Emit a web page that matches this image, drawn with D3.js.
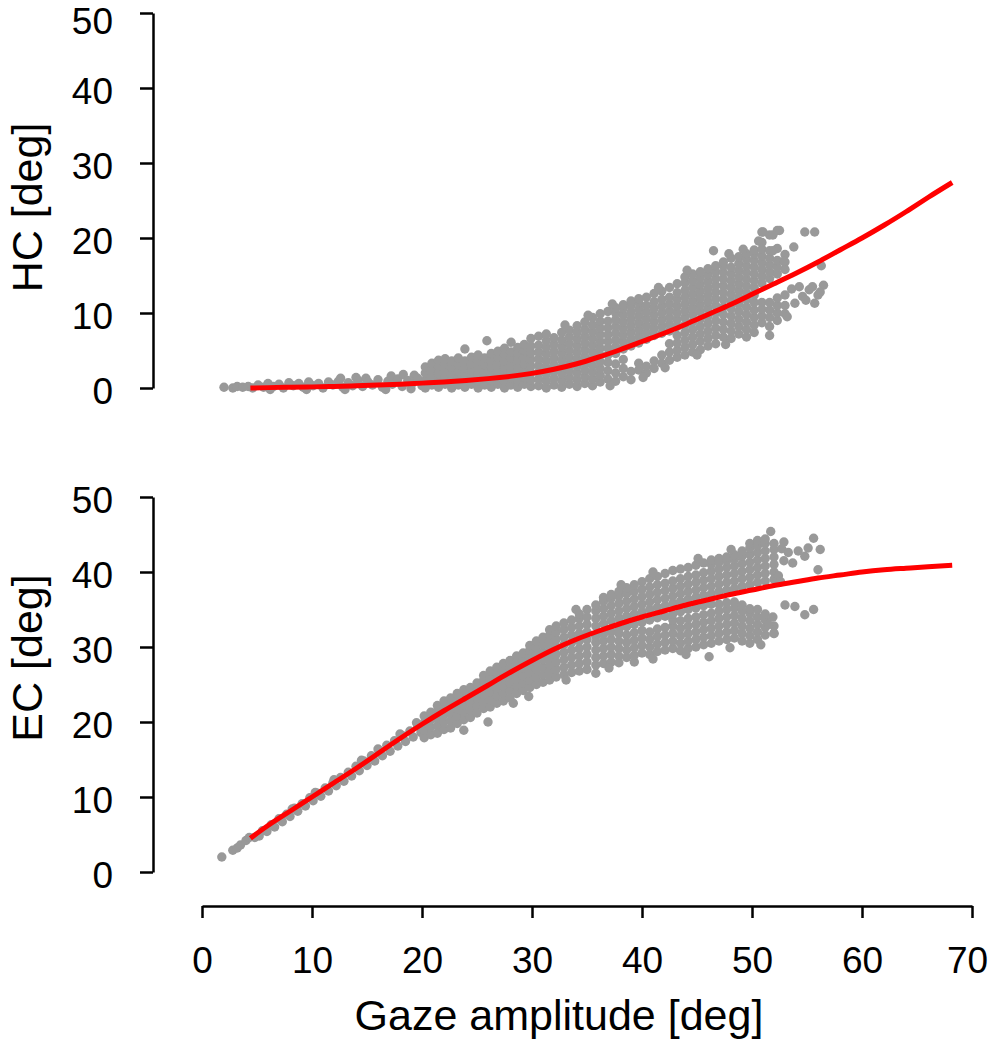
<!DOCTYPE html>
<html>
<head>
<meta charset="utf-8">
<script src="https://cdn.jsdelivr.net/npm/d3@7"></script>
<style>
body { margin: 0; background: #fff; }
svg { display: block; }
text { font-family: "Liberation Sans", Arial, Helvetica, sans-serif; }
</style>
</head>
<body>
<script>
// tick labels
var xTicks = [0, 10, 20, 30, 40, 50, 60, 70];
var yTicks = [0, 10, 20, 30, 40, 50];

// fitted curves (gaze amplitude -> HC / EC)
var fitX  = [4.4, 6, 8, 10, 12, 14, 16, 18, 20, 22, 24, 26, 28, 30, 32, 34, 36, 38, 40, 42, 44, 46, 48, 50, 52, 54, 56, 58, 60, 62, 64, 66, 68.2];
var hcFit = [0.0, 0.05, 0.1, 0.15, 0.2, 0.3, 0.4, 0.5, 0.65, 0.8, 1.0, 1.25, 1.55, 1.95, 2.5, 3.2, 4.1, 5.1, 6.2, 7.3, 8.5, 9.8, 11.1, 12.5, 13.9, 15.3, 16.8, 18.4, 20.0, 21.7, 23.5, 25.4, 27.4];
var ecFit = [4.5, 6.2, 8.1, 10.0, 11.9, 13.8, 15.8, 17.8, 19.7, 21.5, 23.2, 24.9, 26.6, 28.2, 29.7, 31.0, 32.1, 33.1, 34.0, 34.8, 35.6, 36.3, 37.0, 37.6, 38.2, 38.7, 39.2, 39.6, 40.0, 40.3, 40.5, 40.7, 40.9];

// HC scatter, [gaze, hc]
var hcLowPts = [[2.0,0.1],[2.8,0.0],[3.2,0.2],[3.7,0.1],[4.2,0.2],[4.6,0.0],
  [5.1,0.4],[5.6,0.1],[6.0,0.6],[6.2,-0.2],[6.5,0.2],[7.0,0.5],[7.4,0.0],[7.9,0.7],[8.3,0.3],[8.8,0.6],[9.2,0.1],[9.5,-0.2],
  [9.7,0.8],[10.1,0.3],[10.6,0.6],[11.0,0.0],[11.5,0.8],[11.9,0.4],[12.4,0.9],[12.6,1.3],[12.8,0.1],[13.0,-0.2],[13.3,0.7],
  [13.7,0.3],[14.0,1.4],[14.2,1.0],[14.6,0.2],[14.9,1.3],[15.1,0.8],[15.5,0.4],[16.0,1.1],[16.4,0.1],[16.7,-0.2],[16.9,0.9],
  [17.2,1.6],[17.3,0.5],[17.8,1.2],[18.2,0.2],[18.3,1.8],[18.7,1.0],[19.0,-0.1],[19.1,0.6],[19.3,1.7],[19.6,1.3],[20.0,0.3]];
var hcMidCols = [
  [20.3,[0.0,1.0,2.0,2.8]], [20.9,[0.4,1.4,2.4,3.3]], [21.5,[0.1,1.0,1.9,2.9,3.7]], [22.1,[0.5,1.4,2.3,3.2,3.9]],
  [22.7,[0.0,0.9,1.8,2.8,3.6]], [23.3,[0.4,1.3,2.2,3.1,4.0]], [23.9,[0.1,1.0,1.9,2.7,3.6,5.2]], [24.5,[0.5,1.4,2.3,3.2,4.1]],
  [25.1,[0.0,0.9,1.8,2.7,3.6,4.4]], [25.7,[0.4,1.3,2.2,3.1,4.0]], [25.9,[6.3]], [26.3,[0.1,1.0,1.9,2.8,3.7,4.6]],
  [26.9,[0.5,1.4,2.3,3.2,4.1,4.9]], [27.5,[0.0,0.9,1.8,2.7,3.6,4.5,5.3]], [28.1,[0.4,1.3,2.2,3.1,4.0,4.8,6.1]],
  [28.7,[0.1,1.0,1.9,2.8,3.7,4.6,5.4]], [29.3,[0.5,1.4,2.3,3.2,4.1,5.0,5.8]], [29.9,[0.2,1.1,2.0,2.9,3.8,4.7,5.6,6.6]]];
var hcHighCols = [
  [30.6,[0.3,1.2,2.1,3.0,3.9,4.8,5.7,6.9]], [31.3,[0.0,0.9,1.8,2.7,3.6,4.5,5.4,6.3,7.2]],
  [32.0,[0.4,1.3,2.2,3.1,4.0,4.9,5.8,6.7]], [32.7,[0.1,1.0,1.9,2.8,3.7,4.6,5.5,6.4,7.4]],
  [33.4,[0.5,1.4,2.3,3.2,4.1,5.0,5.9,6.8,7.7]], [34.1,[0.2,1.1,2.0,2.9,3.8,4.7,5.6,6.5,7.4,8.3]],
  [34.8,[0.6,1.5,2.4,3.3,4.2,5.1,6.0,6.9,7.8,8.8]], [35.5,[0.3,1.2,2.1,3.0,3.9,4.8,5.7,6.6,7.5,8.4,9.4]],
  [36.2,[0.8,1.7,2.6,3.5,4.4,5.3,6.2,7.1,8.0,8.9,9.9]], [36.9,[1.2,2.3,3.4,4.4,5.3,6.2,7.1,8.0,8.9,10.2]],
  [37.6,[0.9,2.0,3.2,4.6,5.5,6.4,7.3,8.2,9.1,10.0,10.7]], [38.3,[1.5,2.6,3.8,5.2,6.1,7.0,7.9,8.8,9.7,10.6,11.1]],
  [39.0,[1.1,2.2,5.6,6.5,7.4,8.3,9.2,10.1,11.0,11.6]], [39.7,[2.4,3.3,6.0,6.9,7.8,8.7,9.6,10.5,11.4,11.9]],
  [40.4,[2.0,2.9,6.5,7.4,8.3,9.2,10.1,11.0,12.1]], [41.1,[2.6,3.6,7.0,7.9,8.8,9.7,10.6,11.5,12.6]],
  [41.8,[3.3,4.4,7.3,8.2,9.1,10.0,10.9,11.8,12.9]], [42.5,[3.7,4.8,5.9,7.6,8.5,9.4,10.3,11.2,12.1,13.4]],
  [43.2,[4.1,5.0,6.0,7.0,8.2,9.1,10.0,10.9,11.8,12.7,13.9]], [43.9,[4.4,5.4,6.4,7.4,8.4,9.4,10.3,11.2,12.1,13.0,14.0,14.8]],
  [44.6,[4.8,5.8,6.8,7.8,8.8,9.8,10.7,11.6,12.5,13.4,14.3,15.2]], [45.3,[5.1,6.2,7.2,8.2,9.2,10.2,11.1,12.0,12.9,13.8,14.7,15.5]],
  [46.0,[5.6,6.6,7.6,8.6,9.6,10.6,11.5,12.4,13.3,14.2,15.1,15.9]], [46.5,[18.3]],
  [46.7,[5.9,7.0,8.0,9.0,10.0,11.0,11.9,12.8,13.7,14.6,15.5,16.3]], [47.4,[6.8,7.8,8.8,9.8,10.8,11.8,12.7,13.6,14.5,15.4,16.3,16.8]],
  [48.1,[6.6,7.6,8.6,9.6,10.6,11.6,12.5,13.4,14.3,15.2,16.1,17.3]], [48.8,[7.2,8.2,9.2,10.2,11.2,12.1,13.0,13.9,14.8,15.7,16.6,17.5]],
  [49.5,[6.8,7.8,8.8,9.8,10.8,11.8,12.7,13.6,14.5,15.4,16.3,17.2,17.9]], [50.2,[7.4,8.4,9.4,10.4,11.4,12.4,13.4,14.3,15.2,16.1,17.0,17.9,18.4]],
  [50.9,[8.7,9.6,10.5,11.4,14.0,14.9,15.8,16.7,17.6,18.5,19.4,20.8]], [51.6,[7.0,8.2,9.4,10.4,11.4,14.6,15.5,16.4,17.3,18.3,20.4]],
  [52.3,[9.0,10.0,11.0,12.0,15.2,16.1,17.0,18.6,21.0]], [53.0,[9.9,11.0,12.4,15.8,16.8,17.8]]];
var hcRightPts = [[53.2,9.5],[53.6,13.2],[53.8,18.8],[53.9,11.3],[54.3,13.5],[54.6,12.2],[54.8,20.8],[54.9,11.7],[55.2,13.1],
  [55.5,13.5],[55.7,20.8],[55.7,11.3],[56.0,12.4],[56.3,16.3],[56.5,13.7],[56.2,12.8],[52.5,21.0],[51.9,20.4],[51.0,20.8],[51.9,18.3],[52.9,16.9]];
var hcEdgePts = [[33.0,8.4],[35.1,9.7],[37.3,11.2],[41.5,13.4],[44.1,15.7],[47.9,17.9],[49.2,18.5],[50.6,19.6],
  [37.1,0.3],[40.1,1.4],[42.1,2.7],[45.0,4.4],[47.6,5.8]];

// EC scatter, [gaze, ec]
var ecLowPts = [[1.8,2.0],[2.8,2.9],[3.2,3.2],[3.5,3.6],[4.0,4.2],[4.3,4.6],
  [4.8,4.6],[5.2,4.8],[5.5,5.5],[5.9,5.4],[6.3,6.3],[6.6,6.0],[7.0,7.1],[7.3,6.7],[7.7,7.7],[8.0,7.4],[8.2,8.4],[8.4,8.5],
  [8.7,8.1],[9.1,9.1],[9.4,8.8],[9.8,9.9],[10.1,9.5],[10.3,10.6],[10.5,10.5],[10.8,10.1],[11.2,11.2],[11.5,10.8],[11.9,11.9],
  [12.0,12.3],[12.2,11.5],[12.6,12.6],[12.9,12.1],[13.3,13.3],[13.6,12.8],[14.0,14.1],[14.3,13.5],[14.5,14.9],[14.7,14.8],
  [15.0,14.2],[15.4,15.5],[15.7,14.8],[16.0,16.4],[16.1,16.2],[16.4,15.5],[16.8,16.9],[17.1,16.1],[17.5,17.5],[17.8,16.8],
  [18.0,18.4],[18.2,18.2],[18.5,17.4],[18.9,18.8],[19.2,18.0],[19.5,19.9],[19.6,19.5],[19.9,18.6]];
var ecMidCols = [
  [20.2,[17.9,18.9,19.9,20.8]], [20.8,[18.3,19.3,20.3,21.3]], [21.4,[18.5,19.5,20.5,21.5,22.2]], [22.0,[19.0,20.0,21.0,22.0,22.8]],
  [22.6,[19.2,20.2,21.2,22.2,23.2]], [23.2,[19.8,20.8,21.8,22.8,23.8]], [23.8,[18.9,20.3,21.3,22.3,23.3,24.3]],
  [24.4,[20.6,21.6,22.6,23.6,24.6]], [25.0,[21.2,22.2,23.2,24.2,25.2]], [25.6,[21.8,22.6,23.6,24.6,25.6,26.2]], [26.0,[20.0]],
  [26.2,[22.0,23.0,24.0,25.0,26.0,26.8]], [26.8,[22.5,23.5,24.5,25.5,26.5,27.3]], [27.4,[22.8,23.8,24.8,25.8,26.8,27.8]],
  [28.0,[23.2,24.2,25.2,26.2,27.2,28.2]], [28.3,[22.5]], [28.6,[23.8,24.8,25.8,26.8,27.8,28.8]],
  [29.2,[24.2,25.2,26.2,27.2,28.2,29.2]], [29.7,[23.4]], [29.8,[24.6,25.6,26.6,27.6,28.6,29.6,30.2]],
  [30.4,[25.0,26.0,27.0,28.0,29.0,30.0,30.8]], [31.0,[25.3,26.3,27.3,28.3,29.3,30.3,31.3]],
  [31.6,[25.6,26.6,27.6,28.6,29.6,30.6,31.6,32.3]]];
var ecHighCols = [
  [32.2,[26.0,27.0,28.0,29.0,30.0,31.0,32.0,32.8]], [32.9,[26.3,27.3,28.3,29.3,30.3,31.3,32.3,33.2]],
  [33.6,[26.6,27.6,28.6,29.6,30.6,31.6,32.6,33.6]], [34.3,[26.8,27.8,28.8,29.8,30.8,31.8,32.8,33.8,34.4]],
  [35.0,[27.0,28.0,29.0,30.0,31.0,32.0,33.0,34.0,35.0]], [35.8,[26.5,27.6,28.6,29.6,30.6,31.4,32.8,33.8,34.8,35.6]],
  [36.5,[27.8,28.8,29.8,30.8,31.7,33.1,34.1,35.1,36.1,36.6]], [37.2,[28.0,29.0,30.0,31.0,32.0,33.5,34.5,35.5,36.5,37.0]],
  [37.9,[27.9,28.8,29.8,30.8,31.8,32.4,33.8,34.8,35.8,36.8,37.4]], [38.6,[28.6,29.6,30.6,31.6,32.7,34.1,35.1,36.1,37.1,37.9]],
  [39.3,[28.0,28.9,29.9,30.9,31.9,33.0,34.4,35.4,36.4,37.4,38.3]], [40.0,[29.2,30.2,31.2,32.2,33.3,34.7,35.7,36.7,37.7,38.7]],
  [40.7,[29.0,30.0,31.0,32.0,33.6,35.0,36.0,37.0,38.0,39.1]], [41.4,[29.4,30.4,31.4,32.4,33.9,35.3,36.3,37.3,38.3,39.4]],
  [42.1,[29.6,30.6,31.6,32.6,34.1,35.5,36.5,37.5,38.5,39.8]], [42.8,[29.8,30.8,31.8,32.8,33.6,34.4,35.8,36.8,37.8,38.8,40.2]],
  [43.5,[29.5,30.5,31.5,32.5,33.5,34.7,36.1,37.1,38.1,39.1,40.4]], [44.2,[29.8,30.8,31.8,32.8,33.8,35.0,36.4,37.4,38.4,39.4,40.6]],
  [44.9,[30.0,31.0,32.0,33.0,34.0,35.2,36.6,37.6,38.6,39.6,40.9]], [45.6,[30.3,31.3,32.3,33.3,34.3,35.5,36.9,37.9,38.9,39.9,41.2]],
  [46.1,[28.7]], [46.3,[30.5,31.5,32.5,33.5,34.5,35.7,37.1,38.1,39.1,40.1,41.0,41.6]],
  [47.0,[30.8,31.8,32.8,33.8,34.8,35.7,37.4,38.4,39.4,40.4,41.3,41.8]], [47.7,[31.0,32.0,33.0,34.0,35.0,35.9,37.6,38.6,39.6,40.6,41.5,42.0]],
  [48.4,[31.2,32.2,33.2,34.2,35.2,36.0,37.8,38.8,39.8,40.8,41.7,42.3]], [49.1,[30.8,31.8,32.8,33.8,34.8,35.6,38.1,39.1,40.1,41.1,42.1,42.8]],
  [49.8,[30.5,31.5,32.5,33.5,34.5,35.1,38.3,39.3,40.3,41.3,42.3,43.2,43.8]], [50.5,[31.0,32.0,33.0,34.0,35.0,38.6,39.6,40.6,41.6,42.6,43.5,44.2]],
  [51.2,[31.6,32.6,33.6,34.4,38.8,39.8,40.8,41.8,42.8,43.8,44.4]], [52.0,[31.8,32.8,39.0,40.0,41.0,42.0,43.0,43.8]]];
var ecRightPts = [[51.7,45.4],[52.7,43.1],[52.9,41.5],[52.9,44.0],[53.3,42.6],[53.7,41.2],[54.2,42.8],[54.8,42.1],[55.1,43.2],
  [55.6,44.5],[56.2,43.0],[56.0,40.3],[53.0,35.6],[53.9,35.4],[54.8,34.3],[55.6,35.0],[52.4,39.5],[52.6,38.7],[51.9,34.0],[52.0,31.8],[51.5,33.0]];
var ecEdgePts = [[34.0,35.0],[38.1,38.3],[41.0,40.0],[45.1,41.8],[48.1,43.0],
  [33.1,25.6],[37.0,27.2],[41.0,28.4],[44.0,29.0],[48.0,29.9],[50.8,30.3]];

function colsToPts(cols) {
    return cols.flatMap(function(c) { return c[1].map(function(v) { return [c[0], v]; }); });
}

var hcPts = hcLowPts.concat(colsToPts(hcMidCols), colsToPts(hcHighCols), hcRightPts, hcEdgePts);
var ecPts = ecLowPts.concat(colsToPts(ecMidCols), colsToPts(ecHighCols), ecRightPts, ecEdgePts);

var svg = d3.select('body').append('svg')
            .attr('width', 989).attr('height', 1050);

var x = d3.scaleLinear().domain([0, 70]).range([202, 972]);
var yHC = d3.scaleLinear().domain([0, 50]).range([388, 13]);
var yEC = d3.scaleLinear().domain([0, 50]).range([872, 497]);

function styleAxis(g) {
    g.select('.domain').attr('stroke', '#000').attr('stroke-width', 2.5);
    g.selectAll('.tick line').attr('stroke', '#000').attr('stroke-width', 2.5);
    g.selectAll('.tick text').attr('fill', '#000').style('font-size', '37px')
     .style('font-family', '"Liberation Sans", Arial, Helvetica, sans-serif');
}

function drawPanel(pts, fit, y, title, titleY) {
    svg.append('g').selectAll('circle')
       .data(pts)
       .enter().append('circle')
       .attr('cx', function(d) { return x(d[0]); })
       .attr('cy', function(d) { return y(d[1]); })
       .attr('r', 4.7)
       .attr('fill', '#999999');

    var line = d3.line()
                 .x(function(d, i) { return x(fitX[i]); })
                 .y(function(d) { return y(d); })
                 .curve(d3.curveNatural);
    svg.append('path')
       .datum(fit)
       .attr('d', line)
       .attr('fill', 'none')
       .attr('stroke', '#ff0000')
       .attr('stroke-width', 5);

    var ax = svg.append('g')
                .attr('transform', 'translate(153,0)')
                .call(d3.axisLeft(y).tickValues(yTicks).tickSize(13).tickSizeOuter(0).tickPadding(27));
    styleAxis(ax);
    ax.selectAll('.tick text').attr('dy', '0.42em');

    svg.append('text')
       .attr('transform', 'translate(42,' + titleY + ') rotate(-90)')
       .attr('text-anchor', 'middle')
       .style('font-size', '43px')
       .text(title);
    return ax;
}

var axHC = drawPanel(hcPts, hcFit, yHC, 'HC [deg]', 207.5);
drawPanel(ecPts, ecFit, yEC, 'EC [deg]', 658);
// top label would touch the page edge
axHC.selectAll('.tick text').filter(function(d) { return d === 50; }).attr('dy', '0.56em');

var xa = svg.append('g')
            .attr('transform', 'translate(0,906)')
            .call(d3.axisBottom(x).tickValues(xTicks).tickSize(12).tickSizeOuter(0).tickPadding(29));
styleAxis(xa);
// last label sits against the right edge, nudge it in a bit
xa.selectAll('.tick text').filter(function(d) { return d === 70; }).attr('dx', -5);

svg.append('text')
   .attr('x', 559).attr('y', 1030)
   .attr('text-anchor', 'middle')
   .style('font-size', '43px')
   .text('Gaze amplitude [deg]');
</script>
</body>
</html>
